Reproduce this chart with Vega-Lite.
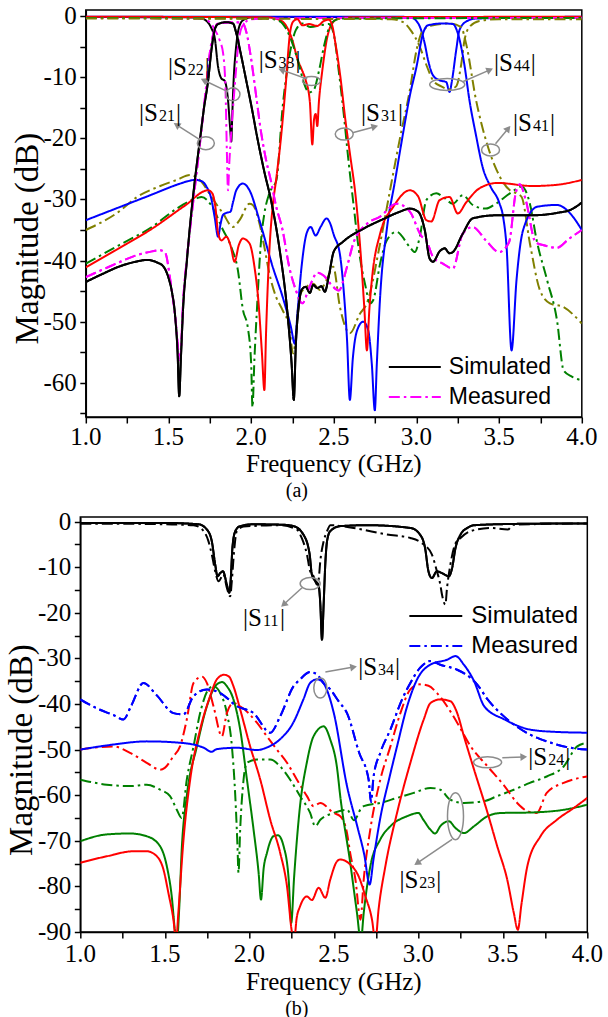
{
"$schema": "https://vega.github.io/schema/vega-lite/v6.json",
"background": "white",
"padding": {"left": 5, "top": 3, "right": 4, "bottom": 2},
"config": {
  "font": "serif",
  "view": {"stroke": "black", "strokeWidth": 1.5},
  "axis": {"grid": false, "domainColor": "black", "domainWidth": 1.5, "tickColor": "black", "tickWidth": 1.5, "tickSize": 6}
},
"datasets": {
"A": [
{"s":"a22s","f":1,"d":-0.15},{"s":"a22s","f":1.6,"d":-0.2},{"s":"a22s","f":1.7,"d":-0.4},{"s":"a22s","f":1.73,"d":-0.8},{"s":"a22s","f":1.76,"d":-2},{"s":"a22s","f":1.78,"d":-3.6},{"s":"a22s","f":1.8,"d":-8.3},{"s":"a22s","f":1.82,"d":-10.2},{"s":"a22s","f":1.84,"d":-10.6},{"s":"a22s","f":1.86,"d":-13.7},{"s":"a22s","f":1.872,"d":-18},{"s":"a22s","f":1.88,"d":-20.5},{"s":"a22s","f":1.886,"d":-16},{"s":"a22s","f":1.895,"d":-10},{"s":"a22s","f":1.907,"d":-5.6},{"s":"a22s","f":1.925,"d":-2},{"s":"a22s","f":1.95,"d":-0.7},{"s":"a22s","f":2,"d":-0.2},{"s":"a22s","f":2.5,"d":-0.15},{"s":"a22s","f":4,"d":-0.15},
{"s":"a44s","f":1,"d":-0.1},{"s":"a44s","f":2.9,"d":-0.1},{"s":"a44s","f":2.97,"d":-0.25},{"s":"a44s","f":3,"d":-0.8},{"s":"a44s","f":3.02,"d":-1.7},{"s":"a44s","f":3.05,"d":-4.5},{"s":"a44s","f":3.07,"d":-7.2},{"s":"a44s","f":3.1,"d":-9.7},{"s":"a44s","f":3.14,"d":-10.5},{"s":"a44s","f":3.18,"d":-10.8},{"s":"a44s","f":3.2,"d":-12.4},{"s":"a44s","f":3.215,"d":-10.5},{"s":"a44s","f":3.24,"d":-5.6},{"s":"a44s","f":3.26,"d":-2.3},{"s":"a44s","f":3.3,"d":-0.9},{"s":"a44s","f":3.36,"d":-0.4},{"s":"a44s","f":4,"d":-0.1},
{"s":"a33s","f":1,"d":-0.1},{"s":"a33s","f":2.1,"d":-0.2},{"s":"a33s","f":2.17,"d":-0.6},{"s":"a33s","f":2.21,"d":-1.5},{"s":"a33s","f":2.25,"d":-4},{"s":"a33s","f":2.28,"d":-7},{"s":"a33s","f":2.31,"d":-9},{"s":"a33s","f":2.33,"d":-10.5},{"s":"a33s","f":2.355,"d":-14},{"s":"a33s","f":2.37,"d":-21},{"s":"a33s","f":2.38,"d":-17},{"s":"a33s","f":2.39,"d":-16},{"s":"a33s","f":2.4,"d":-18},{"s":"a33s","f":2.41,"d":-14},{"s":"a33s","f":2.43,"d":-9},{"s":"a33s","f":2.46,"d":-3.5},{"s":"a33s","f":2.49,"d":-1.2},{"s":"a33s","f":2.53,"d":-0.4},{"s":"a33s","f":2.6,"d":-0.2},{"s":"a33s","f":4,"d":-0.1},
{"s":"a22m","f":1,"d":-0.3},{"s":"a22m","f":1.7,"d":-0.4},{"s":"a22m","f":1.75,"d":-1},{"s":"a22m","f":1.78,"d":-2.2},{"s":"a22m","f":1.81,"d":-4},{"s":"a22m","f":1.83,"d":-6},{"s":"a22m","f":1.845,"d":-12},{"s":"a22m","f":1.853,"d":-22},{"s":"a22m","f":1.86,"d":-28.5},{"s":"a22m","f":1.868,"d":-24},{"s":"a22m","f":1.885,"d":-17},{"s":"a22m","f":1.905,"d":-10},{"s":"a22m","f":1.925,"d":-4},{"s":"a22m","f":1.95,"d":-1.5},{"s":"a22m","f":2,"d":-0.5},{"s":"a22m","f":2.5,"d":-0.3},{"s":"a22m","f":4,"d":-0.3},
{"s":"a33m","f":1,"d":-0.3},{"s":"a33m","f":2.1,"d":-0.4},{"s":"a33m","f":2.17,"d":-0.8},{"s":"a33m","f":2.21,"d":-2},{"s":"a33m","f":2.25,"d":-4.5},{"s":"a33m","f":2.29,"d":-8},{"s":"a33m","f":2.32,"d":-11},{"s":"a33m","f":2.35,"d":-12.5},{"s":"a33m","f":2.38,"d":-12},{"s":"a33m","f":2.41,"d":-9},{"s":"a33m","f":2.44,"d":-5},{"s":"a33m","f":2.47,"d":-2},{"s":"a33m","f":2.5,"d":-0.8},{"s":"a33m","f":2.55,"d":-0.4},{"s":"a33m","f":4,"d":-0.3},
{"s":"a44m","f":1,"d":-0.4},{"s":"a44m","f":2.85,"d":-0.5},{"s":"a44m","f":2.92,"d":-1},{"s":"a44m","f":2.97,"d":-2.5},{"s":"a44m","f":3.02,"d":-5},{"s":"a44m","f":3.06,"d":-8},{"s":"a44m","f":3.1,"d":-10.5},{"s":"a44m","f":3.15,"d":-11.5},{"s":"a44m","f":3.2,"d":-12},{"s":"a44m","f":3.24,"d":-11.5},{"s":"a44m","f":3.27,"d":-8},{"s":"a44m","f":3.29,"d":-4},{"s":"a44m","f":3.32,"d":-1.8},{"s":"a44m","f":3.38,"d":-0.8},{"s":"a44m","f":3.5,"d":-0.5},{"s":"a44m","f":4,"d":-0.5},
{"s":"a41m","f":1,"d":-35},{"s":"a41m","f":1.2,"d":-32},{"s":"a41m","f":1.31,"d":-29.6},{"s":"a41m","f":1.45,"d":-27.8},{"s":"a41m","f":1.55,"d":-26.8},{"s":"a41m","f":1.63,"d":-26},{"s":"a41m","f":1.7,"d":-27.1},{"s":"a41m","f":1.76,"d":-29.6},{"s":"a41m","f":1.83,"d":-32.3},{"s":"a41m","f":1.89,"d":-34.5},{"s":"a41m","f":1.93,"d":-33.4},{"s":"a41m","f":1.99,"d":-30.7},{"s":"a41m","f":2.01,"d":-30.9},{"s":"a41m","f":2.05,"d":-33.9},{"s":"a41m","f":2.08,"d":-37.8},{"s":"a41m","f":2.11,"d":-42.1},{"s":"a41m","f":2.15,"d":-45.9},{"s":"a41m","f":2.19,"d":-48.1},{"s":"a41m","f":2.23,"d":-50.8},{"s":"a41m","f":2.254,"d":-55.2},{"s":"a41m","f":2.27,"d":-52.5},{"s":"a41m","f":2.29,"d":-45.9},{"s":"a41m","f":2.335,"d":-44.3},{"s":"a41m","f":2.375,"d":-43.8},{"s":"a41m","f":2.416,"d":-44.8},{"s":"a41m","f":2.456,"d":-43.2},{"s":"a41m","f":2.496,"d":-41},{"s":"a41m","f":2.537,"d":-47.6},{"s":"a41m","f":2.597,"d":-51.9},{"s":"a41m","f":2.658,"d":-48.7},{"s":"a41m","f":2.7,"d":-47},{"s":"a41m","f":2.78,"d":-37.2},{"s":"a41m","f":2.84,"d":-28.5},{"s":"a41m","f":2.9,"d":-20},{"s":"a41m","f":2.96,"d":-12.1},{"s":"a41m","f":3,"d":-5.6},{"s":"a41m","f":3.04,"d":-2.3},{"s":"a41m","f":3.1,"d":-1.5},{"s":"a41m","f":3.2,"d":-1.2},{"s":"a41m","f":3.27,"d":-1.8},{"s":"a41m","f":3.3,"d":-4.5},{"s":"a41m","f":3.36,"d":-13.7},{"s":"a41m","f":3.42,"d":-20.3},{"s":"a41m","f":3.485,"d":-25.2},{"s":"a41m","f":3.565,"d":-28.5},{"s":"a41m","f":3.605,"d":-29},{"s":"a41m","f":3.636,"d":-29.6},{"s":"a41m","f":3.686,"d":-37.2},{"s":"a41m","f":3.746,"d":-44.8},{"s":"a41m","f":3.807,"d":-47},{"s":"a41m","f":3.888,"d":-47.6},{"s":"a41m","f":4,"d":-50.3},
{"s":"a31m","f":1,"d":-40.5},{"s":"a31m","f":1.2,"d":-37.5},{"s":"a31m","f":1.4,"d":-34.5},{"s":"a31m","f":1.55,"d":-31.5},{"s":"a31m","f":1.67,"d":-29.8},{"s":"a31m","f":1.7,"d":-29.6},{"s":"a31m","f":1.76,"d":-31},{"s":"a31m","f":1.83,"d":-35},{"s":"a31m","f":1.88,"d":-37.8},{"s":"a31m","f":1.92,"d":-41.6},{"s":"a31m","f":1.95,"d":-48},{"s":"a31m","f":1.98,"d":-51},{"s":"a31m","f":2,"d":-56.8},{"s":"a31m","f":2.008,"d":-64},{"s":"a31m","f":2.02,"d":-56},{"s":"a31m","f":2.035,"d":-48},{"s":"a31m","f":2.06,"d":-36.7},{"s":"a31m","f":2.08,"d":-32.3},{"s":"a31m","f":2.11,"d":-29},{"s":"a31m","f":2.153,"d":-26.8},{"s":"a31m","f":2.19,"d":-15},{"s":"a31m","f":2.234,"d":-6.1},{"s":"a31m","f":2.27,"d":-2.3},{"s":"a31m","f":2.31,"d":-1.2},{"s":"a31m","f":2.36,"d":-1.8},{"s":"a31m","f":2.42,"d":-1.5},{"s":"a31m","f":2.47,"d":-1.3},{"s":"a31m","f":2.5,"d":-3},{"s":"a31m","f":2.53,"d":-9},{"s":"a31m","f":2.56,"d":-16},{"s":"a31m","f":2.59,"d":-24},{"s":"a31m","f":2.62,"d":-31},{"s":"a31m","f":2.65,"d":-38},{"s":"a31m","f":2.69,"d":-44},{"s":"a31m","f":2.72,"d":-47},{"s":"a31m","f":2.738,"d":-46.5},{"s":"a31m","f":2.78,"d":-40.5},{"s":"a31m","f":2.82,"d":-36.7},{"s":"a31m","f":2.88,"d":-35.3},{"s":"a31m","f":2.96,"d":-37.8},{"s":"a31m","f":2.99,"d":-38.6},{"s":"a31m","f":3.02,"d":-36.1},{"s":"a31m","f":3.06,"d":-30.1},{"s":"a31m","f":3.12,"d":-29},{"s":"a31m","f":3.17,"d":-29.8},{"s":"a31m","f":3.22,"d":-30.7},{"s":"a31m","f":3.28,"d":-29.3},{"s":"a31m","f":3.34,"d":-30.9},{"s":"a31m","f":3.42,"d":-31.5},{"s":"a31m","f":3.48,"d":-30.7},{"s":"a31m","f":3.565,"d":-29},{"s":"a31m","f":3.636,"d":-27.9},{"s":"a31m","f":3.686,"d":-30.7},{"s":"a31m","f":3.727,"d":-36.7},{"s":"a31m","f":3.79,"d":-43.2},{"s":"a31m","f":3.85,"d":-49.8},{"s":"a31m","f":3.89,"d":-58},{"s":"a31m","f":3.94,"d":-59},{"s":"a31m","f":4,"d":-59.6},
{"s":"a21m","f":1,"d":-42.7},{"s":"a21m","f":1.1,"d":-41.5},{"s":"a21m","f":1.2,"d":-40.3},{"s":"a21m","f":1.3,"d":-39.2},{"s":"a21m","f":1.4,"d":-38.5},{"s":"a21m","f":1.45,"d":-38.3},{"s":"a21m","f":1.48,"d":-38.7},{"s":"a21m","f":1.51,"d":-43},{"s":"a21m","f":1.54,"d":-49},{"s":"a21m","f":1.57,"d":-56.3},{"s":"a21m","f":1.59,"d":-46},{"s":"a21m","f":1.61,"d":-40},{"s":"a21m","f":1.63,"d":-35},{"s":"a21m","f":1.66,"d":-28},{"s":"a21m","f":1.69,"d":-21},{"s":"a21m","f":1.72,"d":-13.5},{"s":"a21m","f":1.75,"d":-6},{"s":"a21m","f":1.78,"d":-2},{"s":"a21m","f":1.8,"d":-1.2},{"s":"a21m","f":1.9,"d":-1},{"s":"a21m","f":1.95,"d":-1.2},{"s":"a21m","f":1.97,"d":-2.5},{"s":"a21m","f":2,"d":-7},{"s":"a21m","f":2.03,"d":-13},{"s":"a21m","f":2.06,"d":-19},{"s":"a21m","f":2.09,"d":-23.5},{"s":"a21m","f":2.12,"d":-27},{"s":"a21m","f":2.15,"d":-31},{"s":"a21m","f":2.19,"d":-35},{"s":"a21m","f":2.23,"d":-41},{"s":"a21m","f":2.27,"d":-44.8},{"s":"a21m","f":2.31,"d":-47},{"s":"a21m","f":2.35,"d":-44.5},{"s":"a21m","f":2.4,"d":-42},{"s":"a21m","f":2.44,"d":-42.5},{"s":"a21m","f":2.48,"d":-43.8},{"s":"a21m","f":2.53,"d":-44.9},{"s":"a21m","f":2.58,"d":-41},{"s":"a21m","f":2.62,"d":-37},{"s":"a21m","f":2.7,"d":-34},{"s":"a21m","f":2.78,"d":-32.8},{"s":"a21m","f":2.88,"d":-30.7},{"s":"a21m","f":2.96,"d":-32},{"s":"a21m","f":3.03,"d":-36},{"s":"a21m","f":3.06,"d":-36.7},{"s":"a21m","f":3.1,"d":-39.4},{"s":"a21m","f":3.16,"d":-40.5},{"s":"a21m","f":3.22,"d":-41.3},{"s":"a21m","f":3.28,"d":-35.6},{"s":"a21m","f":3.34,"d":-34.5},{"s":"a21m","f":3.42,"d":-36.7},{"s":"a21m","f":3.5,"d":-38.6},{"s":"a21m","f":3.56,"d":-37},{"s":"a21m","f":3.6,"d":-29},{"s":"a21m","f":3.625,"d":-27.5},{"s":"a21m","f":3.66,"d":-30},{"s":"a21m","f":3.72,"d":-37},{"s":"a21m","f":3.77,"d":-37.5},{"s":"a21m","f":3.85,"d":-37.9},{"s":"a21m","f":3.92,"d":-36.5},{"s":"a21m","f":4,"d":-35},
{"s":"a41s","f":1,"d":-33.4},{"s":"a41s","f":1.2,"d":-31.3},{"s":"a41s","f":1.4,"d":-29.2},{"s":"a41s","f":1.55,"d":-27.6},{"s":"a41s","f":1.62,"d":-27},{"s":"a41s","f":1.66,"d":-26.8},{"s":"a41s","f":1.7,"d":-27},{"s":"a41s","f":1.73,"d":-27.9},{"s":"a41s","f":1.76,"d":-30},{"s":"a41s","f":1.78,"d":-33},{"s":"a41s","f":1.8,"d":-36.1},{"s":"a41s","f":1.815,"d":-34},{"s":"a41s","f":1.83,"d":-32.5},{"s":"a41s","f":1.85,"d":-32.2},{"s":"a41s","f":1.875,"d":-32},{"s":"a41s","f":1.89,"d":-30.5},{"s":"a41s","f":1.91,"d":-28.5},{"s":"a41s","f":1.95,"d":-27.4},{"s":"a41s","f":1.99,"d":-28.5},{"s":"a41s","f":2.05,"d":-33.4},{"s":"a41s","f":2.13,"d":-41},{"s":"a41s","f":2.19,"d":-45.9},{"s":"a41s","f":2.24,"d":-50.8},{"s":"a41s","f":2.264,"d":-53.6},{"s":"a41s","f":2.28,"d":-48.7},{"s":"a41s","f":2.305,"d":-41},{"s":"a41s","f":2.335,"d":-35.6},{"s":"a41s","f":2.36,"d":-34.5},{"s":"a41s","f":2.39,"d":-35.9},{"s":"a41s","f":2.42,"d":-34.5},{"s":"a41s","f":2.456,"d":-33.1},{"s":"a41s","f":2.476,"d":-33.8},{"s":"a41s","f":2.5,"d":-35.8},{"s":"a41s","f":2.537,"d":-39},{"s":"a41s","f":2.56,"d":-45},{"s":"a41s","f":2.58,"d":-53},{"s":"a41s","f":2.597,"d":-62.8},{"s":"a41s","f":2.615,"d":-56},{"s":"a41s","f":2.64,"d":-51.5},{"s":"a41s","f":2.678,"d":-50},{"s":"a41s","f":2.708,"d":-51.4},{"s":"a41s","f":2.73,"d":-57},{"s":"a41s","f":2.748,"d":-64.5},{"s":"a41s","f":2.76,"d":-57},{"s":"a41s","f":2.78,"d":-46},{"s":"a41s","f":2.82,"d":-35},{"s":"a41s","f":2.87,"d":-27},{"s":"a41s","f":2.92,"d":-19},{"s":"a41s","f":2.96,"d":-13},{"s":"a41s","f":3,"d":-8.3},{"s":"a41s","f":3.04,"d":-2.8},{"s":"a41s","f":3.07,"d":-1.5},{"s":"a41s","f":3.16,"d":-1.2},{"s":"a41s","f":3.22,"d":-1.3},{"s":"a41s","f":3.25,"d":-2.8},{"s":"a41s","f":3.29,"d":-8},{"s":"a41s","f":3.32,"d":-13.7},{"s":"a41s","f":3.36,"d":-19.5},{"s":"a41s","f":3.4,"d":-24.7},{"s":"a41s","f":3.45,"d":-28},{"s":"a41s","f":3.5,"d":-30.5},{"s":"a41s","f":3.525,"d":-33},{"s":"a41s","f":3.545,"d":-37.8},{"s":"a41s","f":3.575,"d":-54.7},{"s":"a41s","f":3.605,"d":-43.2},{"s":"a41s","f":3.645,"d":-35},{"s":"a41s","f":3.73,"d":-31.2},{"s":"a41s","f":3.85,"d":-30.9},{"s":"a41s","f":3.93,"d":-32.3},{"s":"a41s","f":4,"d":-35},
{"s":"a31s","f":1,"d":-41.1},{"s":"a31s","f":1.2,"d":-38},{"s":"a31s","f":1.4,"d":-34.8},{"s":"a31s","f":1.6,"d":-31},{"s":"a31s","f":1.74,"d":-28.5},{"s":"a31s","f":1.765,"d":-29},{"s":"a31s","f":1.785,"d":-31.5},{"s":"a31s","f":1.8,"d":-35.5},{"s":"a31s","f":1.82,"d":-36.7},{"s":"a31s","f":1.85,"d":-36.1},{"s":"a31s","f":1.875,"d":-37.5},{"s":"a31s","f":1.9,"d":-40.2},{"s":"a31s","f":1.925,"d":-37.5},{"s":"a31s","f":1.95,"d":-36.4},{"s":"a31s","f":1.99,"d":-37.2},{"s":"a31s","f":2.02,"d":-41},{"s":"a31s","f":2.045,"d":-47},{"s":"a31s","f":2.065,"d":-55},{"s":"a31s","f":2.08,"d":-61.2},{"s":"a31s","f":2.09,"d":-52},{"s":"a31s","f":2.11,"d":-38.5},{"s":"a31s","f":2.13,"d":-31.2},{"s":"a31s","f":2.15,"d":-27},{"s":"a31s","f":2.18,"d":-20},{"s":"a31s","f":2.21,"d":-11},{"s":"a31s","f":2.234,"d":-3},{"s":"a31s","f":2.254,"d":-0.9},{"s":"a31s","f":2.28,"d":-0.5},{"s":"a31s","f":2.31,"d":-1.5},{"s":"a31s","f":2.35,"d":-1.3},{"s":"a31s","f":2.4,"d":-1.6},{"s":"a31s","f":2.44,"d":-0.8},{"s":"a31s","f":2.47,"d":-0.6},{"s":"a31s","f":2.49,"d":-1.5},{"s":"a31s","f":2.51,"d":-4.5},{"s":"a31s","f":2.54,"d":-10},{"s":"a31s","f":2.57,"d":-17},{"s":"a31s","f":2.6,"d":-23},{"s":"a31s","f":2.63,"d":-29},{"s":"a31s","f":2.66,"d":-38},{"s":"a31s","f":2.685,"d":-48},{"s":"a31s","f":2.7,"d":-54.7},{"s":"a31s","f":2.715,"d":-48},{"s":"a31s","f":2.73,"d":-43.2},{"s":"a31s","f":2.78,"d":-35.6},{"s":"a31s","f":2.86,"d":-31.2},{"s":"a31s","f":2.96,"d":-28.5},{"s":"a31s","f":3.01,"d":-29.5},{"s":"a31s","f":3.06,"d":-33.4},{"s":"a31s","f":3.09,"d":-33.6},{"s":"a31s","f":3.14,"d":-30.1},{"s":"a31s","f":3.2,"d":-29.6},{"s":"a31s","f":3.25,"d":-32.3},{"s":"a31s","f":3.3,"d":-30.5},{"s":"a31s","f":3.38,"d":-28.2},{"s":"a31s","f":3.49,"d":-27.3},{"s":"a31s","f":3.7,"d":-27.8},{"s":"a31s","f":3.85,"d":-27.6},{"s":"a31s","f":4,"d":-26.8},
{"s":"a21s","f":1,"d":-43.5},{"s":"a21s","f":1.1,"d":-42.2},{"s":"a21s","f":1.2,"d":-41},{"s":"a21s","f":1.3,"d":-40.2},{"s":"a21s","f":1.37,"d":-39.9},{"s":"a21s","f":1.43,"d":-40.3},{"s":"a21s","f":1.47,"d":-41},{"s":"a21s","f":1.5,"d":-42.8},{"s":"a21s","f":1.52,"d":-45},{"s":"a21s","f":1.54,"d":-49},{"s":"a21s","f":1.555,"d":-55},{"s":"a21s","f":1.565,"d":-62.2},{"s":"a21s","f":1.575,"d":-56},{"s":"a21s","f":1.59,"d":-47},{"s":"a21s","f":1.61,"d":-40.4},{"s":"a21s","f":1.635,"d":-33},{"s":"a21s","f":1.66,"d":-26.8},{"s":"a21s","f":1.69,"d":-20.3},{"s":"a21s","f":1.715,"d":-15},{"s":"a21s","f":1.74,"d":-10.5},{"s":"a21s","f":1.76,"d":-5.5},{"s":"a21s","f":1.78,"d":-2.2},{"s":"a21s","f":1.8,"d":-1.3},{"s":"a21s","f":1.85,"d":-1},{"s":"a21s","f":1.89,"d":-1.2},{"s":"a21s","f":1.91,"d":-2.8},{"s":"a21s","f":1.94,"d":-6.5},{"s":"a21s","f":1.97,"d":-10.5},{"s":"a21s","f":2,"d":-14.5},{"s":"a21s","f":2.04,"d":-20.3},{"s":"a21s","f":2.08,"d":-25.5},{"s":"a21s","f":2.12,"d":-30.1},{"s":"a21s","f":2.17,"d":-37.8},{"s":"a21s","f":2.22,"d":-48.7},{"s":"a21s","f":2.245,"d":-57},{"s":"a21s","f":2.258,"d":-62.8},{"s":"a21s","f":2.27,"d":-54},{"s":"a21s","f":2.29,"d":-47},{"s":"a21s","f":2.305,"d":-44.8},{"s":"a21s","f":2.33,"d":-44.3},{"s":"a21s","f":2.355,"d":-45.3},{"s":"a21s","f":2.375,"d":-44},{"s":"a21s","f":2.4,"d":-44.5},{"s":"a21s","f":2.425,"d":-44.2},{"s":"a21s","f":2.446,"d":-45.1},{"s":"a21s","f":2.47,"d":-42.5},{"s":"a21s","f":2.5,"d":-38.5},{"s":"a21s","f":2.557,"d":-36.9},{"s":"a21s","f":2.678,"d":-34.8},{"s":"a21s","f":2.8,"d":-33.2},{"s":"a21s","f":2.9,"d":-32},{"s":"a21s","f":2.96,"d":-31.5},{"s":"a21s","f":3.01,"d":-32},{"s":"a21s","f":3.05,"d":-35},{"s":"a21s","f":3.08,"d":-39.7},{"s":"a21s","f":3.1,"d":-40.2},{"s":"a21s","f":3.14,"d":-38.5},{"s":"a21s","f":3.17,"d":-38},{"s":"a21s","f":3.2,"d":-38.8},{"s":"a21s","f":3.22,"d":-38.6},{"s":"a21s","f":3.28,"d":-35.6},{"s":"a21s","f":3.34,"d":-33.1},{"s":"a21s","f":3.48,"d":-32.6},{"s":"a21s","f":3.69,"d":-32.6},{"s":"a21s","f":3.85,"d":-32.2},{"s":"a21s","f":3.94,"d":-31.6},{"s":"a21s","f":4,"d":-30.5}
],
"XLA": [{"f":1,"d":-65.6,"t":"1.0"},{"f":1.5,"d":-65.6,"t":"1.5"},{"f":2,"d":-65.6,"t":"2.0"},{"f":2.5,"d":-65.6,"t":"2.5"},{"f":3,"d":-65.6,"t":"3.0"},{"f":3.5,"d":-65.6,"t":"3.5"},{"f":4,"d":-65.6,"t":"4.0"}],
"XLB": [{"f":1,"d":-90,"t":"1.0"},{"f":1.5,"d":-90,"t":"1.5"},{"f":2,"d":-90,"t":"2.0"},{"f":2.5,"d":-90,"t":"2.5"},{"f":3,"d":-90,"t":"3.0"},{"f":3.5,"d":-90,"t":"3.5"},{"f":4,"d":-90,"t":"4.0"}],
"YLA": [{"f":1,"d":0,"t":"0"},{"f":1,"d":-10,"t":"-10"},{"f":1,"d":-20,"t":"-20"},{"f":1,"d":-30,"t":"-30"},{"f":1,"d":-40,"t":"-40"},{"f":1,"d":-50,"t":"-50"},{"f":1,"d":-60,"t":"-60"}],
"YLB": [{"f":1,"d":0,"t":"0"},{"f":1,"d":-10,"t":"-10"},{"f":1,"d":-20,"t":"-20"},{"f":1,"d":-30,"t":"-30"},{"f":1,"d":-40,"t":"-40"},{"f":1,"d":-50,"t":"-50"},{"f":1,"d":-60,"t":"-60"},{"f":1,"d":-70,"t":"-70"},{"f":1,"d":-80,"t":"-80"},{"f":1,"d":-90,"t":"-90"}],
"XTA": [{"f":2.5,"d":-65.6,"t":"Frequency (GHz)"}],
"XTB": [{"f":2.5,"d":-90,"t":"Frequency (GHz)"}],
"YTA": [{"f":1,"d":-36.4,"t":"Magnitude (dB)"}],
"YTB": [{"f":1,"d":-50.1,"t":"Magnitude (dB)"}],
"AT": [
{"n":"S22","sub":"22","f":1.611,"d":-9.66},{"n":"S21","sub":"21","f":1.436,"d":-17.2},{"n":"S33","sub":"33","f":2.16,"d":-8.5},{"n":"S31","sub":"31","f":2.779,"d":-17.2},{"n":"S44","sub":"44","f":3.583,"d":-9.0},{"n":"S41","sub":"41","f":3.698,"d":-18.8}
],
"AE": [
{"n":"S22","f":1.89,"d":-12.8},{"n":"S21","f":1.726,"d":-20.8},{"n":"S33","f":2.365,"d":-10.6},{"n":"S31","f":2.563,"d":-19.3},{"n":"S44","f":3.186,"d":-11.2},{"n":"S41","f":3.448,"d":-21.9}
],
"AR": [
{"f":1.861,"d":-12.4,"f2":1.714,"d2":-10.5},{"f":1.694,"d":-20.3,"f2":1.549,"d2":-17.8},{"f":2.339,"d":-10.3,"f2":2.184,"d2":-8.8},{"f":2.613,"d":-19.1,"f2":2.748,"d2":-18.1},{"f":3.283,"d":-10.7,"f2":3.444,"d2":-8.8},{"f":3.478,"d":-20.9,"f2":3.555,"d2":-18.4}
],
"AH": [
{"f":1.714,"d":-10.5,"ang":-154.3},{"f":1.549,"d":-17.8,"ang":-148},{"f":2.184,"d":-8.8,"ang":-160.6},{"f":2.748,"d":-18.1,"ang":-15.1},{"f":3.444,"d":-8.8,"ang":-23.7},{"f":3.555,"d":-18.4,"ang":-51.3}
],
"B": [
{"s":"b11s","f":1,"d":-0.3},{"s":"b11s","f":1.5,"d":-0.3},{"s":"b11s","f":1.7,"d":-0.6},{"s":"b11s","f":1.749,"d":-1.75},{"s":"b11s","f":1.778,"d":-4.3},{"s":"b11s","f":1.798,"d":-9.4},{"s":"b11s","f":1.812,"d":-12},{"s":"b11s","f":1.828,"d":-11.3},{"s":"b11s","f":1.844,"d":-10.9},{"s":"b11s","f":1.867,"d":-13.8},{"s":"b11s","f":1.881,"d":-15.6},{"s":"b11s","f":1.89,"d":-12.7},{"s":"b11s","f":1.9,"d":-5.8},{"s":"b11s","f":1.917,"d":-2.1},{"s":"b11s","f":1.946,"d":-1},{"s":"b11s","f":2.025,"d":-0.6},{"s":"b11s","f":2.2,"d":-0.7},{"s":"b11s","f":2.262,"d":-1},{"s":"b11s","f":2.32,"d":-2.85},{"s":"b11s","f":2.357,"d":-7.2},{"s":"b11s","f":2.37,"d":-11.6},{"s":"b11s","f":2.39,"d":-13},{"s":"b11s","f":2.41,"d":-14},{"s":"b11s","f":2.42,"d":-18},{"s":"b11s","f":2.43,"d":-25.9},{"s":"b11s","f":2.44,"d":-18},{"s":"b11s","f":2.45,"d":-9},{"s":"b11s","f":2.46,"d":-4.3},{"s":"b11s","f":2.479,"d":-2.1},{"s":"b11s","f":2.538,"d":-1},{"s":"b11s","f":2.7,"d":-0.8},{"s":"b11s","f":2.953,"d":-1.4},{"s":"b11s","f":3.01,"d":-2.85},{"s":"b11s","f":3.04,"d":-5.8},{"s":"b11s","f":3.06,"d":-10.9},{"s":"b11s","f":3.08,"d":-12.4},{"s":"b11s","f":3.11,"d":-10.9},{"s":"b11s","f":3.14,"d":-11.3},{"s":"b11s","f":3.18,"d":-12},{"s":"b11s","f":3.2,"d":-10.2},{"s":"b11s","f":3.22,"d":-5.8},{"s":"b11s","f":3.25,"d":-2.85},{"s":"b11s","f":3.29,"d":-1.4},{"s":"b11s","f":3.33,"d":-0.8},{"s":"b11s","f":3.6,"d":-0.5},{"s":"b11s","f":4,"d":-0.4},
{"s":"b11m","f":1,"d":-0.5},{"s":"b11m","f":1.3,"d":-0.5},{"s":"b11m","f":1.5,"d":-0.6},{"s":"b11m","f":1.67,"d":-0.8},{"s":"b11m","f":1.73,"d":-2.1},{"s":"b11m","f":1.758,"d":-4.3},{"s":"b11m","f":1.778,"d":-7.2},{"s":"b11m","f":1.798,"d":-10.9},{"s":"b11m","f":1.818,"d":-13.1},{"s":"b11m","f":1.847,"d":-11.6},{"s":"b11m","f":1.867,"d":-14.5},{"s":"b11m","f":1.887,"d":-16.4},{"s":"b11m","f":1.897,"d":-12.8},{"s":"b11m","f":1.91,"d":-6.5},{"s":"b11m","f":1.926,"d":-2.1},{"s":"b11m","f":1.966,"d":-1.1},{"s":"b11m","f":2.183,"d":-0.8},{"s":"b11m","f":2.282,"d":-1.75},{"s":"b11m","f":2.31,"d":-3.6},{"s":"b11m","f":2.341,"d":-7.2},{"s":"b11m","f":2.36,"d":-10.9},{"s":"b11m","f":2.38,"d":-12},{"s":"b11m","f":2.4,"d":-13.8},{"s":"b11m","f":2.41,"d":-12.8},{"s":"b11m","f":2.42,"d":-8.7},{"s":"b11m","f":2.44,"d":-4.3},{"s":"b11m","f":2.46,"d":-2.1},{"s":"b11m","f":2.48,"d":-0.8},{"s":"b11m","f":2.617,"d":-1.4},{"s":"b11m","f":2.815,"d":-2.85},{"s":"b11m","f":2.953,"d":-3.6},{"s":"b11m","f":3.02,"d":-4.7},{"s":"b11m","f":3.08,"d":-7.2},{"s":"b11m","f":3.11,"d":-10.9},{"s":"b11m","f":3.13,"d":-13.8},{"s":"b11m","f":3.14,"d":-16},{"s":"b11m","f":3.16,"d":-18.2},{"s":"b11m","f":3.17,"d":-14.5},{"s":"b11m","f":3.19,"d":-9.4},{"s":"b11m","f":3.22,"d":-4.8},{"s":"b11m","f":3.25,"d":-3.6},{"s":"b11m","f":3.31,"d":-2.1},{"s":"b11m","f":3.43,"d":-1.4},{"s":"b11m","f":3.53,"d":-1.75},{"s":"b11m","f":3.56,"d":-0.7},{"s":"b11m","f":4,"d":-0.4},
{"s":"b23m","f":1,"d":-56.6},{"s":"b23m","f":1.156,"d":-57.7},{"s":"b23m","f":1.294,"d":-58},{"s":"b23m","f":1.393,"d":-57.7},{"s":"b23m","f":1.472,"d":-58.8},{"s":"b23m","f":1.531,"d":-60.2},{"s":"b23m","f":1.571,"d":-63.2},{"s":"b23m","f":1.6,"d":-65},{"s":"b23m","f":1.63,"d":-56.6},{"s":"b23m","f":1.67,"d":-49.3},{"s":"b23m","f":1.709,"d":-42},{"s":"b23m","f":1.758,"d":-36.8},{"s":"b23m","f":1.788,"d":-36.1},{"s":"b23m","f":1.828,"d":-37.6},{"s":"b23m","f":1.867,"d":-42},{"s":"b23m","f":1.897,"d":-49.3},{"s":"b23m","f":1.917,"d":-60.2},{"s":"b23m","f":1.93,"d":-71.2},{"s":"b23m","f":1.936,"d":-77},{"s":"b23m","f":1.946,"d":-67.5},{"s":"b23m","f":1.966,"d":-56.6},{"s":"b23m","f":1.986,"d":-52.9},{"s":"b23m","f":2.045,"d":-52.2},{"s":"b23m","f":2.124,"d":-52.2},{"s":"b23m","f":2.183,"d":-53.7},{"s":"b23m","f":2.242,"d":-56.6},{"s":"b23m","f":2.3,"d":-60.2},{"s":"b23m","f":2.36,"d":-63.9},{"s":"b23m","f":2.39,"d":-66.8},{"s":"b23m","f":2.42,"d":-65.4},{"s":"b23m","f":2.499,"d":-63.9},{"s":"b23m","f":2.578,"d":-63.2},{"s":"b23m","f":2.62,"d":-65.5},{"s":"b23m","f":2.66,"d":-63},{"s":"b23m","f":2.677,"d":-62.4},{"s":"b23m","f":2.775,"d":-61.7},{"s":"b23m","f":2.874,"d":-60.6},{"s":"b23m","f":2.973,"d":-59.5},{"s":"b23m","f":3.072,"d":-58.4},{"s":"b23m","f":3.13,"d":-58.8},{"s":"b23m","f":3.19,"d":-61},{"s":"b23m","f":3.27,"d":-61.7},{"s":"b23m","f":3.39,"d":-61.3},{"s":"b23m","f":3.467,"d":-60.2},{"s":"b23m","f":3.565,"d":-58.8},{"s":"b23m","f":3.66,"d":-57.3},{"s":"b23m","f":3.76,"d":-55.9},{"s":"b23m","f":3.86,"d":-53.7},{"s":"b23m","f":3.94,"d":-49.3},{"s":"b23m","f":4,"d":-48.5},
{"s":"b24m","f":1,"d":-50},{"s":"b24m","f":1.195,"d":-49.3},{"s":"b24m","f":1.294,"d":-50.7},{"s":"b24m","f":1.393,"d":-52.9},{"s":"b24m","f":1.472,"d":-54.4},{"s":"b24m","f":1.5,"d":-54},{"s":"b24m","f":1.55,"d":-51.5},{"s":"b24m","f":1.59,"d":-49.3},{"s":"b24m","f":1.63,"d":-43.4},{"s":"b24m","f":1.67,"d":-35.4},{"s":"b24m","f":1.72,"d":-34},{"s":"b24m","f":1.75,"d":-35.5},{"s":"b24m","f":1.788,"d":-40.5},{"s":"b24m","f":1.838,"d":-47.1},{"s":"b24m","f":1.867,"d":-42},{"s":"b24m","f":1.906,"d":-39.8},{"s":"b24m","f":1.946,"d":-40.5},{"s":"b24m","f":2.045,"d":-44.1},{"s":"b24m","f":2.104,"d":-47.1},{"s":"b24m","f":2.163,"d":-50},{"s":"b24m","f":2.223,"d":-52.9},{"s":"b24m","f":2.282,"d":-56.6},{"s":"b24m","f":2.341,"d":-60.2},{"s":"b24m","f":2.38,"d":-62.4},{"s":"b24m","f":2.42,"d":-61.7},{"s":"b24m","f":2.499,"d":-63.9},{"s":"b24m","f":2.538,"d":-64.6},{"s":"b24m","f":2.578,"d":-68.3},{"s":"b24m","f":2.597,"d":-72.7},{"s":"b24m","f":2.628,"d":-78.5},{"s":"b24m","f":2.658,"d":-87.3},{"s":"b24m","f":2.677,"d":-78.5},{"s":"b24m","f":2.716,"d":-67.5},{"s":"b24m","f":2.775,"d":-56.6},{"s":"b24m","f":2.835,"d":-49.3},{"s":"b24m","f":2.894,"d":-42},{"s":"b24m","f":2.953,"d":-36.8},{"s":"b24m","f":3.01,"d":-35.7},{"s":"b24m","f":3.06,"d":-36},{"s":"b24m","f":3.11,"d":-37.6},{"s":"b24m","f":3.17,"d":-40.5},{"s":"b24m","f":3.23,"d":-44.1},{"s":"b24m","f":3.31,"d":-49.3},{"s":"b24m","f":3.41,"d":-53.7},{"s":"b24m","f":3.51,"d":-58},{"s":"b24m","f":3.585,"d":-61.7},{"s":"b24m","f":3.645,"d":-63.5},{"s":"b24m","f":3.7,"d":-63.9},{"s":"b24m","f":3.76,"d":-59.5},{"s":"b24m","f":3.86,"d":-57.3},{"s":"b24m","f":4,"d":-55.9},
{"s":"b34m","f":1,"d":-39},{"s":"b34m","f":1.1,"d":-41},{"s":"b34m","f":1.2,"d":-42.5},{"s":"b34m","f":1.255,"d":-43.4},{"s":"b34m","f":1.3,"d":-40.5},{"s":"b34m","f":1.373,"d":-35.4},{"s":"b34m","f":1.45,"d":-38},{"s":"b34m","f":1.551,"d":-42},{"s":"b34m","f":1.61,"d":-42.3},{"s":"b34m","f":1.67,"d":-38.3},{"s":"b34m","f":1.749,"d":-36.8},{"s":"b34m","f":1.828,"d":-37.6},{"s":"b34m","f":1.927,"d":-40.5},{"s":"b34m","f":2.025,"d":-42},{"s":"b34m","f":2.124,"d":-46.3},{"s":"b34m","f":2.183,"d":-42.7},{"s":"b34m","f":2.262,"d":-36.1},{"s":"b34m","f":2.3,"d":-34.6},{"s":"b34m","f":2.36,"d":-33},{"s":"b34m","f":2.4,"d":-33.5},{"s":"b34m","f":2.44,"d":-35.5},{"s":"b34m","f":2.479,"d":-36.8},{"s":"b34m","f":2.53,"d":-39.5},{"s":"b34m","f":2.578,"d":-42},{"s":"b34m","f":2.65,"d":-50.7},{"s":"b34m","f":2.706,"d":-56.6},{"s":"b34m","f":2.72,"d":-61.5},{"s":"b34m","f":2.735,"d":-56},{"s":"b34m","f":2.775,"d":-50.7},{"s":"b34m","f":2.835,"d":-45.6},{"s":"b34m","f":2.904,"d":-39},{"s":"b34m","f":2.953,"d":-35.4},{"s":"b34m","f":3.01,"d":-32.1},{"s":"b34m","f":3.07,"d":-30.6},{"s":"b34m","f":3.13,"d":-31.4},{"s":"b34m","f":3.23,"d":-32.5},{"s":"b34m","f":3.31,"d":-34.3},{"s":"b34m","f":3.35,"d":-35.8},{"s":"b34m","f":3.41,"d":-39},{"s":"b34m","f":3.5,"d":-42.5},{"s":"b34m","f":3.66,"d":-46.7},{"s":"b34m","f":3.76,"d":-48.2},{"s":"b34m","f":3.9,"d":-49.6},{"s":"b34m","f":4,"d":-50},
{"s":"b23s","f":1,"d":-70.1},{"s":"b23s","f":1.156,"d":-68.6},{"s":"b23s","f":1.294,"d":-68.4},{"s":"b23s","f":1.393,"d":-69},{"s":"b23s","f":1.472,"d":-71.2},{"s":"b23s","f":1.512,"d":-75.6},{"s":"b23s","f":1.541,"d":-82.2},{"s":"b23s","f":1.561,"d":-90},{"s":"b23s","f":1.572,"d":-92},{"s":"b23s","f":1.585,"d":-85},{"s":"b23s","f":1.6,"d":-72},{"s":"b23s","f":1.63,"d":-60.2},{"s":"b23s","f":1.69,"d":-49.3},{"s":"b23s","f":1.749,"d":-40.5},{"s":"b23s","f":1.808,"d":-35.7},{"s":"b23s","f":1.84,"d":-35.2},{"s":"b23s","f":1.867,"d":-36.1},{"s":"b23s","f":1.906,"d":-39},{"s":"b23s","f":1.946,"d":-45.6},{"s":"b23s","f":1.986,"d":-56.6},{"s":"b23s","f":2.025,"d":-67.5},{"s":"b23s","f":2.055,"d":-77},{"s":"b23s","f":2.069,"d":-82.9},{"s":"b23s","f":2.085,"d":-76},{"s":"b23s","f":2.104,"d":-72.7},{"s":"b23s","f":2.143,"d":-69},{"s":"b23s","f":2.17,"d":-68.8},{"s":"b23s","f":2.203,"d":-71.2},{"s":"b23s","f":2.233,"d":-78.5},{"s":"b23s","f":2.248,"d":-88},{"s":"b23s","f":2.265,"d":-78},{"s":"b23s","f":2.3,"d":-62.4},{"s":"b23s","f":2.34,"d":-52.9},{"s":"b23s","f":2.38,"d":-47.1},{"s":"b23s","f":2.44,"d":-44.9},{"s":"b23s","f":2.479,"d":-47.8},{"s":"b23s","f":2.519,"d":-54},{"s":"b23s","f":2.538,"d":-60.2},{"s":"b23s","f":2.597,"d":-74.8},{"s":"b23s","f":2.637,"d":-85.8},{"s":"b23s","f":2.66,"d":-92},{"s":"b23s","f":2.677,"d":-85.8},{"s":"b23s","f":2.716,"d":-75.6},{"s":"b23s","f":2.775,"d":-69.7},{"s":"b23s","f":2.835,"d":-66.8},{"s":"b23s","f":2.934,"d":-64.6},{"s":"b23s","f":3,"d":-63.9},{"s":"b23s","f":3.03,"d":-65.4},{"s":"b23s","f":3.07,"d":-67.5},{"s":"b23s","f":3.1,"d":-68.4},{"s":"b23s","f":3.13,"d":-66.8},{"s":"b23s","f":3.18,"d":-65.7},{"s":"b23s","f":3.22,"d":-67.2},{"s":"b23s","f":3.27,"d":-68.3},{"s":"b23s","f":3.33,"d":-66.8},{"s":"b23s","f":3.41,"d":-64.6},{"s":"b23s","f":3.49,"d":-63.9},{"s":"b23s","f":3.66,"d":-63.8},{"s":"b23s","f":3.86,"d":-63.2},{"s":"b23s","f":4,"d":-62.1},
{"s":"b24s","f":1,"d":-74.8},{"s":"b24s","f":1.156,"d":-73.4},{"s":"b24s","f":1.314,"d":-72.3},{"s":"b24s","f":1.393,"d":-72.3},{"s":"b24s","f":1.453,"d":-73.4},{"s":"b24s","f":1.492,"d":-76.3},{"s":"b24s","f":1.521,"d":-81.4},{"s":"b24s","f":1.551,"d":-87.3},{"s":"b24s","f":1.567,"d":-92},{"s":"b24s","f":1.58,"d":-85.8},{"s":"b24s","f":1.61,"d":-70},{"s":"b24s","f":1.65,"d":-56.6},{"s":"b24s","f":1.709,"d":-45.6},{"s":"b24s","f":1.768,"d":-38.3},{"s":"b24s","f":1.808,"d":-34.6},{"s":"b24s","f":1.85,"d":-33.6},{"s":"b24s","f":1.88,"d":-34},{"s":"b24s","f":1.906,"d":-36.1},{"s":"b24s","f":1.946,"d":-41.2},{"s":"b24s","f":2.005,"d":-49.3},{"s":"b24s","f":2.065,"d":-56.6},{"s":"b24s","f":2.124,"d":-65.4},{"s":"b24s","f":2.183,"d":-72.7},{"s":"b24s","f":2.223,"d":-80},{"s":"b24s","f":2.252,"d":-90},{"s":"b24s","f":2.265,"d":-92},{"s":"b24s","f":2.28,"d":-87},{"s":"b24s","f":2.3,"d":-84.4},{"s":"b24s","f":2.341,"d":-82.2},{"s":"b24s","f":2.37,"d":-83},{"s":"b24s","f":2.41,"d":-80.3},{"s":"b24s","f":2.45,"d":-82.5},{"s":"b24s","f":2.479,"d":-78.5},{"s":"b24s","f":2.519,"d":-74.5},{"s":"b24s","f":2.538,"d":-74.1},{"s":"b24s","f":2.597,"d":-75.2},{"s":"b24s","f":2.647,"d":-77.8},{"s":"b24s","f":2.687,"d":-82.2},{"s":"b24s","f":2.726,"d":-87.3},{"s":"b24s","f":2.746,"d":-92},{"s":"b24s","f":2.765,"d":-85},{"s":"b24s","f":2.805,"d":-75.6},{"s":"b24s","f":2.874,"d":-63.9},{"s":"b24s","f":2.953,"d":-52.9},{"s":"b24s","f":3.032,"d":-43.4},{"s":"b24s","f":3.072,"d":-39.8},{"s":"b24s","f":3.13,"d":-39},{"s":"b24s","f":3.19,"d":-39.4},{"s":"b24s","f":3.23,"d":-42},{"s":"b24s","f":3.27,"d":-47.1},{"s":"b24s","f":3.33,"d":-54.4},{"s":"b24s","f":3.41,"d":-63.9},{"s":"b24s","f":3.467,"d":-71.2},{"s":"b24s","f":3.526,"d":-78.5},{"s":"b24s","f":3.565,"d":-85.8},{"s":"b24s","f":3.589,"d":-89.5},{"s":"b24s","f":3.61,"d":-84},{"s":"b24s","f":3.645,"d":-75.6},{"s":"b24s","f":3.723,"d":-69},{"s":"b24s","f":3.82,"d":-65.4},{"s":"b24s","f":3.92,"d":-62.8},{"s":"b24s","f":4,"d":-60.6},
{"s":"b34s","f":1,"d":-50},{"s":"b34s","f":1.195,"d":-48.9},{"s":"b34s","f":1.393,"d":-48.2},{"s":"b34s","f":1.59,"d":-48.5},{"s":"b34s","f":1.73,"d":-49.6},{"s":"b34s","f":1.778,"d":-50.5},{"s":"b34s","f":1.8,"d":-50},{"s":"b34s","f":1.828,"d":-49.8},{"s":"b34s","f":1.927,"d":-49.6},{"s":"b34s","f":2.045,"d":-50.1},{"s":"b34s","f":2.1,"d":-49.6},{"s":"b34s","f":2.18,"d":-47.8},{"s":"b34s","f":2.26,"d":-44.1},{"s":"b34s","f":2.32,"d":-39},{"s":"b34s","f":2.36,"d":-35.4},{"s":"b34s","f":2.4,"d":-34.6},{"s":"b34s","f":2.43,"d":-35},{"s":"b34s","f":2.46,"d":-37},{"s":"b34s","f":2.5,"d":-42},{"s":"b34s","f":2.578,"d":-58},{"s":"b34s","f":2.64,"d":-67},{"s":"b34s","f":2.68,"d":-73},{"s":"b34s","f":2.712,"d":-79.6},{"s":"b34s","f":2.735,"d":-74},{"s":"b34s","f":2.775,"d":-65},{"s":"b34s","f":2.83,"d":-56},{"s":"b34s","f":2.874,"d":-49.3},{"s":"b34s","f":2.934,"d":-40.5},{"s":"b34s","f":2.993,"d":-34.6},{"s":"b34s","f":3.07,"d":-31.4},{"s":"b34s","f":3.17,"d":-30.3},{"s":"b34s","f":3.22,"d":-29.5},{"s":"b34s","f":3.27,"d":-31.4},{"s":"b34s","f":3.33,"d":-35},{"s":"b34s","f":3.39,"d":-40.5},{"s":"b34s","f":3.51,"d":-43.4},{"s":"b34s","f":3.66,"d":-45.6},{"s":"b34s","f":3.8,"d":-46.1},{"s":"b34s","f":4,"d":-46.3}
],
"BT": [
{"n":"S11","sub":"11","f":2.075,"d":-22.8},{"n":"S34","sub":"34","f":2.756,"d":-33.6},{"n":"S24","sub":"24","f":3.763,"d":-53.3},{"n":"S23","sub":"23","f":3.0,"d":-80.3}
],
"BE": [
{"n":"S11","f":2.36,"d":-13.6},{"n":"S34","f":2.42,"d":-36.5},{"n":"S24","f":3.41,"d":-52.8},{"n":"S23","f":3.22,"d":-64.6}
],
"BR": [
{"f":2.312,"d":-14.5,"f2":2.203,"d2":-18.2},{"f":2.45,"d":-33,"f2":2.617,"d2":-31.9},{"f":3.497,"d":-51.8,"f2":3.624,"d2":-51.6},{"f":3.2,"d":-69.7,"f2":2.993,"d2":-74.9}
],
"BH": [
{"f":2.203,"d":-18.2,"ang":137.8},{"f":2.617,"d":-31.9,"ang":-10.4},{"f":3.624,"d":-51.6,"ang":-2.7},{"f":2.993,"d":-74.9,"ang":146.3}
]
},
"spacing": 6,
"center": true,
"resolve": {"scale": {"color": "independent", "strokeDash": "independent", "shape": "independent"}},
"vconcat": [
{
 "width": 496, "height": 407,
 "title": {"text": "(a)", "orient": "bottom", "anchor": "middle", "dx": -37, "offset": 4, "fontSize": 20, "font": "serif", "fontWeight": "normal", "color": "black"},
 "encoding": {
  "x": {"field": "f", "type": "quantitative", "scale": {"domain": [1, 4], "nice": false, "zero": false}, "axis": {"title": null, "labels": false, "values": [1,1.25,1.5,1.75,2,2.25,2.5,2.75,3,3.25,3.5,3.75,4]}},
  "y": {"field": "d", "type": "quantitative", "scale": {"domain": [-65.6, 1], "nice": false, "zero": false}, "axis": {"title": null, "labels": false, "values": [-65,-60,-55,-50,-45,-40,-35,-30,-25,-20,-15,-10,-5,0]}}
 },
 "resolve": {"scale": {"color": "independent", "strokeDash": "independent"}},
 "layer": [
  {"data": {"name": "A"}, "mark": {"type": "line", "strokeWidth": 2, "clip": true, "interpolate": "monotone"},
   "encoding": {
    "color": {"field": "s", "type": "nominal", "legend": null, "scale": {"domain": ["a22s","a44s","a33s","a22m","a33m","a44m","a41m","a31m","a21m","a41s","a31s","a21s"], "range": ["#000000","#0000FF","#FF0000","#FF00FF","#008000","#808000","#808000","#008000","#FF00FF","#0000FF","#FF0000","#000000"]}},
    "strokeDash": {"field": "s", "type": "nominal", "legend": null, "scale": {"domain": ["a22s","a44s","a33s","a22m","a33m","a44m","a41m","a31m","a21m","a41s","a31s","a21s"], "range": [[1,0],[1,0],[1,0],[11,4,2.5,4],[11,4,2.5,4],[11,4,2.5,4],[11,4,2.5,4],[11,4,2.5,4],[11,4,2.5,4],[1,0],[1,0],[1,0]]}}
   }},
  {"data": {"name": "A"}, "transform": [{"filter": "datum.s == 'a21s' || datum.s == 'a21m'"}, {"calculate": "datum.s == 'a21s' ? 'Simulated' : 'Measured'", "as": "k"}],
   "mark": {"type": "line", "strokeWidth": 2, "clip": true, "interpolate": "monotone"},
   "encoding": {
    "color": {"field": "k", "type": "nominal", "scale": {"domain": ["Simulated","Measured"], "range": ["#000000","#FF00FF"]}, "legend": {"title": null, "orient": "none", "legendX": 302, "legendY": 342, "symbolType": "stroke", "symbolSize": 2700, "symbolStrokeWidth": 2, "labelFont": "Liberation Sans", "labelFontSize": 23, "labelColor": "black", "labelOffset": 7, "rowPadding": 0, "clipHeight": 30, "padding": 0}},
    "strokeDash": {"field": "k", "type": "nominal", "scale": {"domain": ["Simulated","Measured"], "range": [[1,0],[11,4,2.5,4]]}, "legend": {"title": null, "orient": "none", "legendX": 302, "legendY": 342, "symbolType": "stroke", "symbolSize": 2700, "symbolStrokeWidth": 2, "labelFont": "Liberation Sans", "labelFontSize": 23, "labelColor": "black", "labelOffset": 7, "rowPadding": 0, "clipHeight": 30, "padding": 0}}
   }},
  {"data": {"name": "AE"}, "mark": {"type": "point", "filled": false, "stroke": "#8c8c8c", "strokeWidth": 1.5, "opacity": 1, "size": 4},
   "encoding": {"shape": {"field": "n", "type": "nominal", "legend": null, "scale": {"domain": ["S22","S21","S33","S31","S44","S41"], "range": ["M -7 0 A 7 6.5 0 1 0 7 0 A 7 6.5 0 1 0 -7 0 Z","M -8.5 0 A 8.5 6.5 0 1 0 8.5 0 A 8.5 6.5 0 1 0 -8.5 0 Z","M -9 0 A 9 4.5 0 1 0 9 0 A 9 4.5 0 1 0 -9 0 Z","M -9 0 A 9 6 0 1 0 9 0 A 9 6 0 1 0 -9 0 Z","M -17.5 0 A 17.5 6 0 1 0 17.5 0 A 17.5 6 0 1 0 -17.5 0 Z","M -9 0 A 9 6 0 1 0 9 0 A 9 6 0 1 0 -9 0 Z"]}}}},
  {"data": {"name": "AR"}, "mark": {"type": "rule", "color": "#8c8c8c", "strokeWidth": 1.5},
   "encoding": {"x2": {"field": "f2"}, "y2": {"field": "d2"}}},
  {"data": {"name": "AH"}, "mark": {"type": "point", "shape": "triangle-right", "filled": true, "color": "#8c8c8c", "opacity": 1, "size": 60},
   "encoding": {"angle": {"field": "ang", "type": "quantitative", "scale": null}}},
  {"data": {"name": "AT"}, "mark": {"type": "text", "align": "right", "baseline": "alphabetic", "fontSize": 25, "font": "serif", "color": "black"},
   "encoding": {"text": {"value": "|S"}}},
  {"data": {"name": "AT"}, "mark": {"type": "text", "align": "left", "baseline": "alphabetic", "dx": 1, "fontSize": 16, "font": "serif", "color": "black"},
   "encoding": {"text": {"field": "sub"}}},
  {"data": {"name": "AT"}, "mark": {"type": "text", "align": "left", "baseline": "alphabetic", "dx": 18, "fontSize": 25, "font": "serif", "color": "black"},
   "encoding": {"text": {"value": "|"}}},
  {"data": {"name": "XLA"}, "mark": {"type": "text", "align": "center", "baseline": "middle", "dy": 20, "fontSize": 25, "font": "serif", "color": "black"},
   "encoding": {"text": {"field": "t"}}},
  {"data": {"name": "YLA"}, "mark": {"type": "text", "align": "right", "baseline": "middle", "dx": -9, "fontSize": 25, "font": "serif", "color": "black"},
   "encoding": {"text": {"field": "t"}}},
  {"data": {"name": "XTA"}, "mark": {"type": "text", "align": "center", "baseline": "middle", "dy": 47, "fontSize": 25, "font": "serif", "color": "black"},
   "encoding": {"text": {"field": "t"}}},
  {"data": {"name": "YTA"}, "mark": {"type": "text", "align": "center", "baseline": "middle", "angle": 270, "dy": -58, "fontSize": 33, "font": "serif", "color": "black"},
   "encoding": {"text": {"field": "t"}}}
 ]
},
{
 "width": 507, "height": 415,
 "title": {"text": "(b)", "orient": "bottom", "anchor": "middle", "dx": -37, "offset": 4, "fontSize": 20, "font": "serif", "fontWeight": "normal", "color": "black"},
 "encoding": {
  "x": {"field": "f", "type": "quantitative", "scale": {"domain": [1, 4], "nice": false, "zero": false}, "axis": {"title": null, "labels": false, "values": [1,1.25,1.5,1.75,2,2.25,2.5,2.75,3,3.25,3.5,3.75,4]}},
  "y": {"field": "d", "type": "quantitative", "scale": {"domain": [-90, 1], "nice": false, "zero": false}, "axis": {"title": null, "labels": false, "values": [-90,-85,-80,-75,-70,-65,-60,-55,-50,-45,-40,-35,-30,-25,-20,-15,-10,-5,0]}}
 },
 "resolve": {"scale": {"color": "independent", "strokeDash": "independent"}},
 "layer": [
  {"data": {"name": "B"}, "mark": {"type": "line", "strokeWidth": 2, "clip": true, "interpolate": "monotone"},
   "encoding": {
    "color": {"field": "s", "type": "nominal", "legend": null, "scale": {"domain": ["b11s","b11m","b23m","b24m","b34m","b23s","b24s","b34s"], "range": ["#000000","#000000","#008000","#FF0000","#0000FF","#008000","#FF0000","#0000FF"]}},
    "strokeDash": {"field": "s", "type": "nominal", "legend": null, "scale": {"domain": ["b11s","b11m","b23m","b24m","b34m","b23s","b24s","b34s"], "range": [[1,0],[11,4,2.5,4],[11,4,2.5,4],[11,4,2.5,4],[11,4,2.5,4],[1,0],[1,0],[1,0]]}}
   }},
  {"data": {"name": "B"}, "transform": [{"filter": "datum.s == 'b11s' || datum.s == 'b34m'"}, {"calculate": "datum.s == 'b11s' ? 'Simulated' : 'Measured'", "as": "k"}],
   "mark": {"type": "line", "strokeWidth": 2, "clip": true, "interpolate": "monotone"},
   "encoding": {
    "color": {"field": "k", "type": "nominal", "scale": {"domain": ["Simulated","Measured"], "range": ["#000000","#0000FF"]}, "legend": {"title": null, "orient": "none", "legendX": 328, "legendY": 84, "symbolType": "stroke", "symbolSize": 2800, "symbolStrokeWidth": 2, "labelFont": "Liberation Sans", "labelFontSize": 24, "labelColor": "black", "labelOffset": 8, "rowPadding": 0, "clipHeight": 30, "padding": 0}},
    "strokeDash": {"field": "k", "type": "nominal", "scale": {"domain": ["Simulated","Measured"], "range": [[1,0],[11,4,2.5,4]]}, "legend": {"title": null, "orient": "none", "legendX": 328, "legendY": 84, "symbolType": "stroke", "symbolSize": 2800, "symbolStrokeWidth": 2, "labelFont": "Liberation Sans", "labelFontSize": 24, "labelColor": "black", "labelOffset": 8, "rowPadding": 0, "clipHeight": 30, "padding": 0}}
   }},
  {"data": {"name": "BE"}, "mark": {"type": "point", "filled": false, "stroke": "#8c8c8c", "strokeWidth": 1.5, "opacity": 1, "size": 4},
   "encoding": {"shape": {"field": "n", "type": "nominal", "legend": null, "scale": {"domain": ["S11","S34","S24","S23"], "range": ["M -10 0 A 10 6 0 1 0 10 0 A 10 6 0 1 0 -10 0 Z","M -6.5 0 A 6.5 10 0 1 0 6.5 0 A 6.5 10 0 1 0 -6.5 0 Z","M -14 0 A 14 5.5 0 1 0 14 0 A 14 5.5 0 1 0 -14 0 Z","M -8 0 A 8 23.5 0 1 0 8 0 A 8 23.5 0 1 0 -8 0 Z"]}}}},
  {"data": {"name": "BR"}, "mark": {"type": "rule", "color": "#8c8c8c", "strokeWidth": 1.5},
   "encoding": {"x2": {"field": "f2"}, "y2": {"field": "d2"}}},
  {"data": {"name": "BH"}, "mark": {"type": "point", "shape": "triangle-right", "filled": true, "color": "#8c8c8c", "opacity": 1, "size": 60},
   "encoding": {"angle": {"field": "ang", "type": "quantitative", "scale": null}}},
  {"data": {"name": "BT"}, "mark": {"type": "text", "align": "right", "baseline": "alphabetic", "fontSize": 25, "font": "serif", "color": "black"},
   "encoding": {"text": {"value": "|S"}}},
  {"data": {"name": "BT"}, "mark": {"type": "text", "align": "left", "baseline": "alphabetic", "dx": 1, "fontSize": 16, "font": "serif", "color": "black"},
   "encoding": {"text": {"field": "sub"}}},
  {"data": {"name": "BT"}, "mark": {"type": "text", "align": "left", "baseline": "alphabetic", "dx": 18, "fontSize": 25, "font": "serif", "color": "black"},
   "encoding": {"text": {"value": "|"}}},
  {"data": {"name": "XLB"}, "mark": {"type": "text", "align": "center", "baseline": "middle", "dy": 22, "fontSize": 25, "font": "serif", "color": "black"},
   "encoding": {"text": {"field": "t"}}},
  {"data": {"name": "YLB"}, "mark": {"type": "text", "align": "right", "baseline": "middle", "dx": -9, "fontSize": 25, "font": "serif", "color": "black"},
   "encoding": {"text": {"field": "t"}}},
  {"data": {"name": "XTB"}, "mark": {"type": "text", "align": "center", "baseline": "middle", "dy": 50, "fontSize": 25, "font": "serif", "color": "black"},
   "encoding": {"text": {"field": "t"}}},
  {"data": {"name": "YTB"}, "mark": {"type": "text", "align": "center", "baseline": "middle", "angle": 270, "dy": -58, "fontSize": 33, "font": "serif", "color": "black"},
   "encoding": {"text": {"field": "t"}}}
 ]
}
]
}
